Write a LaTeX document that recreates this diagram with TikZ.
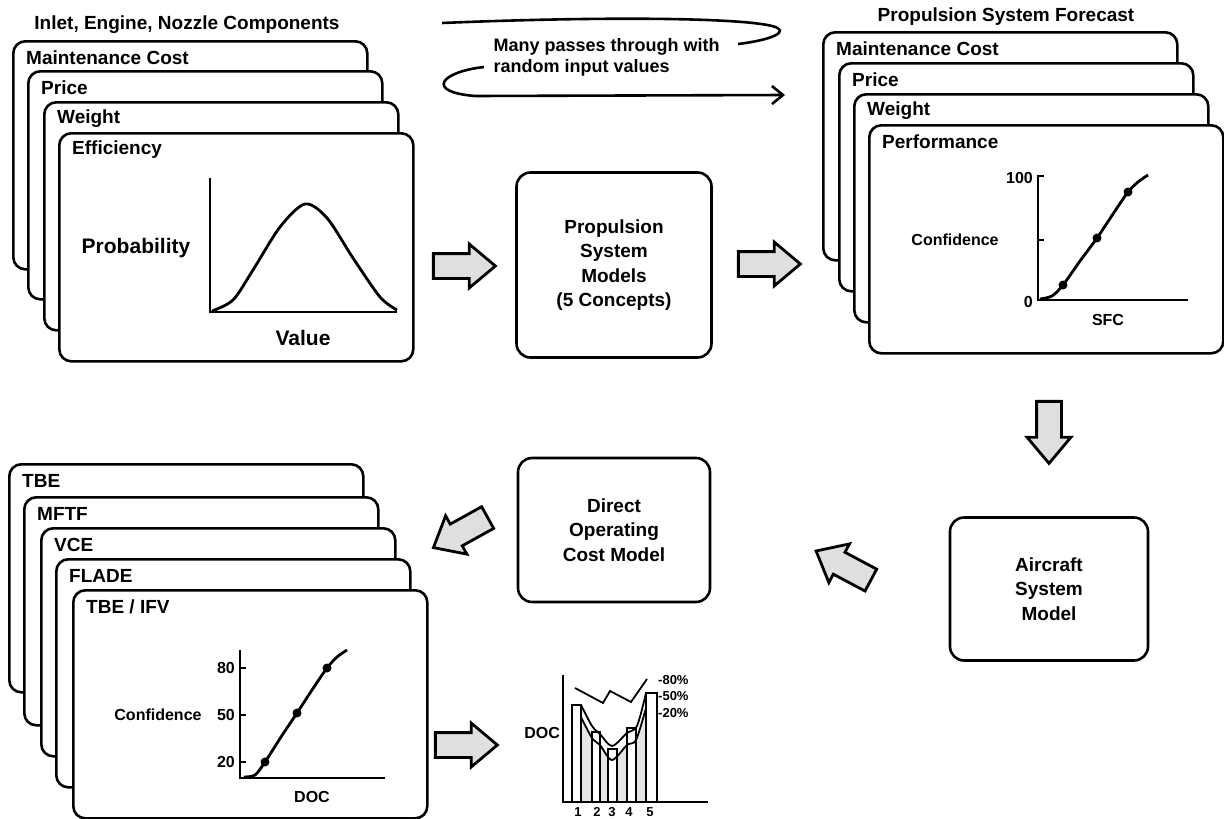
\documentclass[tikz,border=0pt]{standalone}
\usepackage{fontspec}
\setmainfont{Liberation Sans}
\usetikzlibrary{shapes.arrows,arrows.meta}
\tikzstyle{card}=[draw,line width=2.6pt,rounded corners=12pt,fill=white,anchor=north west,minimum width=354pt,minimum height=228pt,inner sep=0pt]
\tikzstyle{cardlabel}=[anchor=west,inner sep=0pt,font=\fontsize{19}{22}\selectfont\bfseries]
\tikzstyle{model}=[draw,line width=2.6pt,rounded corners=14pt,align=center,font=\fontsize{19}{24.5}\selectfont\bfseries]
\tikzstyle{flow}=[single arrow,draw,line width=2.8pt,fill=gray!25,minimum height=62pt,inner xsep=0pt,inner ysep=11pt,single arrow head extend=9.5pt,single arrow tip angle=80]
\tikzstyle{axis}=[line width=2.4pt]
\tikzstyle{curve}=[line width=2.8pt]
\tikzstyle{axlabel}=[inner sep=1pt,font=\fontsize{16}{18}\selectfont\bfseries]
\tikzstyle{small}=[inner sep=1pt,font=\fontsize{13}{15}\selectfont\bfseries]
\tikzstyle{dot}=[circle,fill=black,inner sep=0pt,minimum size=9pt]
\tikzstyle{loop}=[line width=2.6pt]

\begin{document}
\begin{tikzpicture}[x=1pt,y=-1pt]
\useasboundingbox (0,0) rectangle (1224,819);

% Input distributions, drawn back to front
\node[cardlabel,anchor=center] (ictitle) at (187,25) {Inlet, Engine, Nozzle Components};
\foreach \pos/\name/\txt in {{(12,40)/ic1/Maintenance Cost}, {(27,70)/ic2/Price},
                             {(43,101)/ic3/Weight}, {(58,132)/ic4/Efficiency}}
{
  \node[card] (\name) at \pos {};
  \node[cardlabel] (\name-t) at ([shift={(14,18)}]\name.north west) {\txt};
}
\draw[axis] (210,178) -- (210,312) -- (397,312);
\draw[curve] plot[smooth] coordinates {(212,311) (233,300) (253,270) (280,227) (305,204)
    (327,218) (353,258) (380,297) (397,310)};
\node[font=\fontsize{21}{24}\selectfont\bfseries] (prob) at (136,248) {Probability};
\node[font=\fontsize{21}{24}\selectfont\bfseries] (value) at (303,338) {Value};

% Monte Carlo loop
\node[align=left,anchor=west,font=\fontsize{18}{21}\selectfont\bfseries] (passes) at (490,57)
    {Many passes through with\\random input values};
\draw[loop] (442,23) .. controls (610,16) and (740,18) .. (772,26)
    .. controls (792,31) and (772,40) .. (738,44);
\draw[loop,-{Straight Barb[length=11pt,width=18pt]}] (484,67) .. controls (440,72) and (425,92) .. (475,96) -- (785,95);

% Models
\node[model,minimum width=195pt,minimum height=185pt] (psm) at (614,265)
    {Propulsion\\System\\Models\\(5 Concepts)};
\node[model,minimum width=198pt,minimum height=143pt] (asm) at (1049,589)
    {Aircraft\\System\\Model};
\node[model,minimum width=192pt,minimum height=144pt] (docm) at (614,530)
    {Direct\\Operating\\Cost Model};

% Block arrows
\node[flow] (f1) at (457,266) {};
\node[flow] (f2) at (762,264) {};
\node[flow,rotate=-90] (f3) at (1049,425) {};
\node[flow,rotate=152] (f4) at (850,569) {};
\node[flow,rotate=-151] (f5) at (467,529) {};
\node[flow] (f6) at (459,745) {};

% Propulsion system forecast
\node[cardlabel,anchor=center] (pftitle) at (1006,17) {Propulsion System Forecast};
\foreach \pos/\name/\txt in {{(822,31)/pf1/Maintenance Cost}, {(838,62)/pf2/Price},
                             {(853,93)/pf3/Weight}, {(868,124)/pf4/Performance}}
{
  \node[card] (\name) at \pos {};
  \node[cardlabel] (\name-t) at ([shift={(14,18)}]\name.north west) {\txt};
}
\draw[axis] (1044,176) -- (1038,176) -- (1038,300) -- (1188,300);
\draw[axis] (1038,240) -- (1044,240);
\draw[curve] plot[smooth] coordinates {(1040,299) (1052,296) (1063,285) (1080,261) (1097,238)
    (1113,214) (1128,192) (1138,182) (1148,175)};
\foreach \pos/\name in {{(1063,285)/pd1}, {(1097,238)/pd2}, {(1128,192)/pd3}}
  \node[dot] (\name) at \pos {};
\node[axlabel,anchor=east] (p100) at (1034,178) {100};
\node[axlabel,anchor=east] (p0) at (1034,302) {0};
\node[axlabel] (pconf) at (955,240) {Confidence};
\node[axlabel] (sfc) at (1108,320) {SFC};

% Concept forecasts
\foreach \pos/\name/\txt in {{(8,463)/cf1/TBE}, {(23,496)/cf2/MFTF}, {(40,527)/cf3/VCE},
                             {(55,558)/cf4/FLADE}, {(72,589)/cf5/{TBE / IFV}}}
{
  \node[card] (\name) at \pos {};
  \node[cardlabel] (\name-t) at ([shift={(14,18)}]\name.north west) {\txt};
}
\draw[axis] (240,650) -- (240,778) -- (385,778);
\foreach \y in {668,715,762}
  \draw[axis] (240,\y) -- (246,\y);
\draw[curve] plot[smooth] coordinates {(244,777) (255,775) (265,762) (281,737) (297,713)
    (312,690) (327,668) (337,657) (347,650)};
\foreach \pos/\name in {{(265,762)/cd1}, {(297,713)/cd2}, {(327,668)/cd3}}
  \node[dot] (\name) at \pos {};
\foreach \y/\v in {668/80, 715/50, 762/20}
  \node[axlabel,anchor=east] (c\v) at (236,\y) {\v};
\node[axlabel] (cconf) at (158,715) {Confidence};
\node[axlabel] (cdoc) at (312,797) {DOC};

% DOC bar chart
\fill[gray!20] (581,802) -- plot[smooth] coordinates {(581,717) (592,738) (600,745) (612,760)
    (627,745) (636,740) (646,708)} -- (646,802) -- cycle;
\foreach \a/\b/\t in {572/581/705, 592/600/732, 608/617/749, 627/636/728, 646/657/693}
  \draw[line width=1.8pt,fill=white] (\a,802) rectangle (\b,\t);
\draw[line width=1.8pt] plot[smooth] coordinates {(581,705) (592,726) (600,734) (612,746)
    (627,733) (637,726) (646,693)};
\draw[line width=1.8pt] plot[smooth] coordinates {(581,717) (592,738) (600,745) (612,760)
    (627,745) (636,740) (646,708)};
\draw[line width=1.8pt] (575,688) -- (603,703) -- (610,691) -- (631,702) -- (647,679);
\draw[axis] (563,675) -- (563,802) -- (708,802);
\node[axlabel,anchor=east] (bdoc) at (561,733) {DOC};
\foreach \y/\v in {680/80, 696/50, 713/20}
  \node[small,anchor=west] (b\v) at (657,\y) {-\v\%};
\foreach \x/\n in {578/1, 597/2, 612/3, 629/4, 650/5}
  \node[small] (n\n) at (\x,812) {\n};
\end{tikzpicture}
\end{document}
